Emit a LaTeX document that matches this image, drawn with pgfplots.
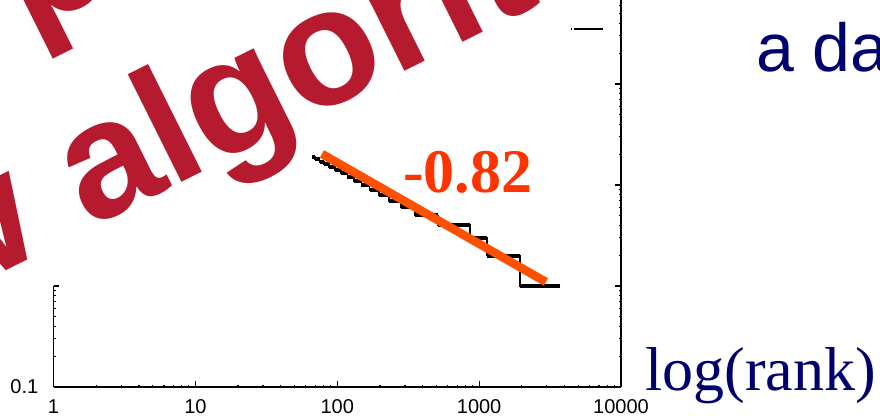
\documentclass[border=0pt]{standalone}
\usepackage{pgfplots}
\pgfplotsset{compat=1.18}
\usepackage{fontspec}
\setmainfont{Liberation Serif}
\setsansfont{Liberation Sans}
\newfontfamily\tickfont{Liberation Sans}
\definecolor{wmred}{RGB}{181,26,46}
\definecolor{fitorange}{RGB}{255,80,0}
\definecolor{numorange}{RGB}{255,51,0}
\definecolor{navy}{RGB}{0,0,110}

\pgfplotstableread{
r f
66 19
70 18
75 17
81 16
88 15
96 14
106 13
118 12
131 11
148 10
169 9
196 8
231 7
280 6
352 5
512 4
861 3
1135 2
1938 1
3715 1
}\steps

\pgfplotstableread{
r f
66 19
70 19
nan nan
70 18
75 18
nan nan
75 17
81 17
nan nan
81 16
88 16
nan nan
88 15
96 15
nan nan
96 14
106 14
nan nan
106 13
118 13
nan nan
118 12
131 12
nan nan
131 11
148 11
nan nan
148 10
169 10
nan nan
169 9
196 9
nan nan
196 8
231 8
nan nan
231 7
280 7
nan nan
280 6
352 6
nan nan
352 5
512 5
nan nan
512 4
861 4
nan nan
861 3
1135 3
nan nan
1135 2
1938 2
nan nan
1938 1
3715 1
}\treads

\begin{document}
\begin{tikzpicture}[x=1pt,y=1pt]
\useasboundingbox (0,0) rectangle (880,417);
\clip (0,0) rectangle (880,417);

\begin{axis}[
  at={(53.5pt,30pt)}, anchor=south west,
  scale only axis, width=567.5pt, height=404pt,
  xmode=log, ymode=log,
  xmin=1, xmax=10000, ymin=0.1, ymax=1000,
  axis x line*=bottom, axis y line*=right,
  axis line style={line width=1.6pt, black, -},
  tick align=inside,
  major tick length=6pt, minor tick length=2.5pt,
  every tick/.style={line width=1.2pt, black},
  xtick={1,10,100,1000,10000},
  xticklabels={1,10,100,1000,10000},
  xticklabel style={font=\tickfont\fontsize{20}{20}\selectfont, anchor=base, inner sep=0pt, yshift=-26pt},
  ytick={0.1,1,10,100,1000},
  yticklabels={,,,,},
  unbounded coords=jump,
]
\addplot[black, line width=1.5pt] coordinates {(4650,350) (7450,350)};
\addplot[black, line width=1.5pt] coordinates {(4420,350) (4530,350)};
\addplot[black, line width=1.8pt, const plot] table[x=r, y=f] {\steps};
\addplot[black, line width=4pt] table[x=r, y=f] {\treads};
\addplot[fitorange, line width=8.5pt] coordinates {(78,20.3) (2956,1.096)};
\end{axis}

\begin{axis}[
  at={(53.5pt,30pt)}, anchor=south west,
  scale only axis, width=567.5pt, height=101pt,
  xmode=log, ymode=log,
  xmin=1, xmax=10000, ymin=0.1, ymax=1,
  hide x axis,
  axis y line*=left,
  axis line style={line width=1.6pt, black, -},
  tick align=inside,
  major tick length=6pt, minor tick length=2.5pt,
  every tick/.style={line width=1.2pt, black},
  ytick={0.1,1},
  yticklabels={0.1,{}},
  yticklabel style={font=\tickfont\fontsize{20}{20}\selectfont, anchor=east, inner sep=0pt, xshift=-15pt},
]
\addplot[draw=none] coordinates {(1,0.1)};
\end{axis}

\node[anchor=base west, inner sep=0pt, text=numorange,
      font=\bfseries\fontsize{62}{62}\selectfont] at (403,224) {-0.82};
\node[anchor=base west, inner sep=0pt, text=navy,
      font=\fontsize{62}{62}\selectfont] at (645,26) {log(rank)};
\node[anchor=base west, inner sep=0pt, text=navy,
      font=\sffamily\fontsize{68}{68}\selectfont] at (756,345) {a da};

\node[rotate=26.5, anchor=base west, inner sep=0pt, text=wmred,
      font=\sffamily\bfseries\fontsize{166}{166}\selectfont] at (89,188) {\llap{new }algorithm};
\node[rotate=26.5, anchor=base west, inner sep=0pt, text=wmred,
      font=\sffamily\bfseries\fontsize{166}{166}\selectfont] at (27,383) {p};
\end{tikzpicture}
\end{document}
